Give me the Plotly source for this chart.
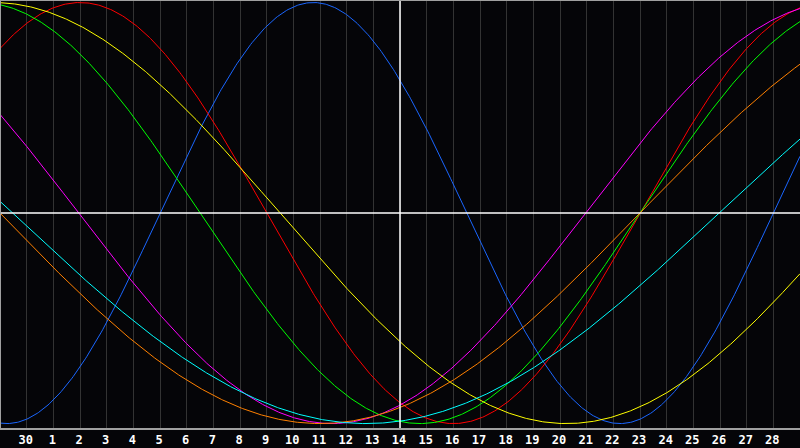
import numpy as np
import plotly.graph_objects as go

# ---- data ----
day_labels = ["30"] + [str(d) for d in range(1, 29)]   # tick labels at day index 1..29
day_index = list(range(1, 30))
today_index = 15                                        # "14"

cycle_names = ["Physical", "Emotional", "Intellectual", "Intuitive", "Aesthetic", "Awareness", "Spiritual"]
cycle_periods = [23, 28, 33, 38, 43, 48, 53]
cycle_zero_day = [6.0, 24.0, 24.0, 21.95, 32.0, 24.0, 26.97]   # day index of an upward zero crossing
cycle_colors = ["#1a66ff", "#ff0000", "#00ff00", "#ff00ff", "#ffff00", "#ff8000", "#00ffff"]

# sample days (index 0 .. 30 across the chart)
sample_days = np.linspace(0, 30, 601)

fig = go.Figure()
for name, per, z, col in zip(cycle_names, cycle_periods, cycle_zero_day, cycle_colors):
    vals = np.sin(2 * np.pi * (sample_days - z) / per)
    fig.add_trace(go.Scatter(x=sample_days, y=vals, mode="lines", name=name,
                             line=dict(color=col, width=1), hoverinfo="skip"))

shapes = [
    dict(type="line", xref="x", yref="paper", x0=today_index, x1=today_index, y0=0, y1=1,
         line=dict(color="#ffffff", width=1.5), layer="above"),
    dict(type="line", xref="paper", yref="y", x0=0, x1=1, y0=0, y1=0,
         line=dict(color="#ffffff", width=1.5), layer="above"),
    dict(type="line", xref="paper", yref="paper", x0=0, x1=0, y0=0, y1=1,
         line=dict(color="#a0a0a0", width=2)),
    dict(type="line", xref="paper", yref="paper", x0=0, x1=1, y0=1, y1=1,
         line=dict(color="#a0a0a0", width=2)),
]

fig.update_layout(
    width=800, height=448,
    margin=dict(l=0, r=0, t=0, b=20),
    paper_bgcolor="#050508", plot_bgcolor="#050508",
    showlegend=False,
    shapes=shapes,
    xaxis=dict(range=[0, 30], tickmode="array", tickvals=day_index, ticktext=day_labels,
               showgrid=True, gridcolor="#333333", gridwidth=1, zeroline=False,
               showline=True, linecolor="#a0a0a0", linewidth=1.5,
               ticks="", ticklabelshift=-1, ticklabelstandoff=0,
               tickfont=dict(family="DejaVu Sans Mono", size=12, color="#ffffff", weight="bold"),
               fixedrange=True),
    yaxis=dict(range=[-1.021, 1.012], showgrid=False, zeroline=False, showticklabels=False,
               fixedrange=True),
)

fig.write_html("out.html", config={"displayModeBar": False},
               post_script="document.body.style.margin='0';document.body.style.padding='0';"
                           "document.body.style.background='#050508';document.body.style.overflow='hidden';")
